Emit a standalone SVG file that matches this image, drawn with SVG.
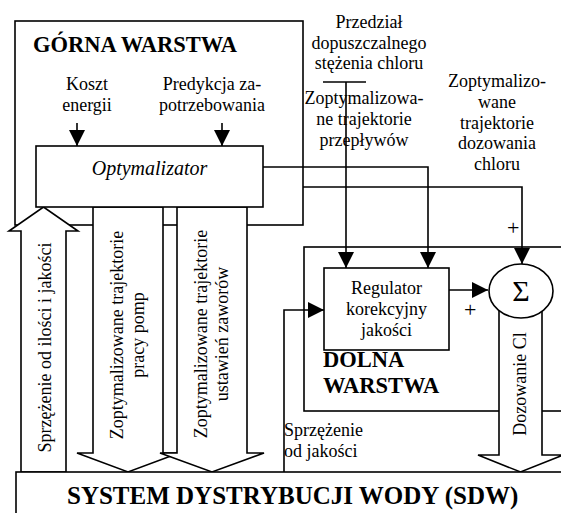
<svg xmlns="http://www.w3.org/2000/svg" width="561" height="513" viewBox="0 0 561 513">
<style>
text{font-family:"Liberation Serif","Times New Roman",serif;font-size:18px;fill:#000}
.b{font-weight:bold}
.h{font-size:22.5px}
.m{text-anchor:middle}
.pl{font-size:22px}
.ln{fill:none;stroke:#000;stroke-width:1.6}
.box{fill:#fff;stroke:#000;stroke-width:1.6}
.arr{fill:#fff;stroke:#000;stroke-width:1.6;stroke-linejoin:miter}
</style>
<defs>
<marker id="ah" viewBox="0 0 16 16" refX="16" refY="8" markerWidth="16" markerHeight="16" orient="auto" markerUnits="userSpaceOnUse">
<path d="M0,0 L16,8 L0,16 z" fill="#000"/>
</marker>
</defs>
<rect width="561" height="513" fill="#fff"/>

<g id="gorna">
<rect class="ln" x="15" y="21" width="288" height="204"/>
<text class="b h" x="33" y="52">GÓRNA WARSTWA</text>
</g>
<g id="dolna">
<rect class="ln" x="304" y="247" width="280" height="164"/>
<text class="b h" x="323" y="367">DOLNA</text>
<text class="b h" x="323" y="393">WARSTWA</text>
</g>

<g id="inputs">
<text class="m" x="87" y="90">Koszt</text>
<text class="m" x="87" y="111">energii</text>
<text class="m" x="212" y="90">Predykcja za-</text>
<text class="m" x="212" y="111">potrzebowania</text>
<text class="m" x="369" y="28">Przedział</text>
<text class="m" x="369" y="49">dopuszczalnego</text>
<text class="m" x="369" y="69">stężenia chloru</text>
<text class="m" x="364" y="104">Zoptymalizowa-</text>
<text class="m" x="364" y="125">ne trajektorie</text>
<text class="m" x="364" y="146">przepływów</text>
<text class="m" x="497" y="87">Zoptymalizo-</text>
<text class="m" x="497" y="108">wane</text>
<text class="m" x="497" y="128.5">trajektorie</text>
<text class="m" x="497" y="149">dozowania</text>
<text class="m" x="497" y="169.5">chloru</text>
</g>

<g id="connectors">
<line class="ln" x1="77" y1="123" x2="77" y2="146" marker-end="url(#ah)"/>
<line class="ln" x1="222" y1="123" x2="222" y2="146" marker-end="url(#ah)"/>
<line class="ln" x1="323" y1="82" x2="366" y2="82"/>
<line class="ln" x1="346" y1="82" x2="346" y2="268" marker-end="url(#ah)"/>
<polyline class="ln" points="263,167 428,167 428,268" marker-end="url(#ah)"/>
<polyline class="ln" points="303,187 522,187 522,264" marker-end="url(#ah)"/>
<line class="ln" x1="449" y1="290" x2="488" y2="290" marker-end="url(#ah)"/>
<polyline class="ln" points="284,472 284,310 324,310" marker-end="url(#ah)"/>
<text class="pl" x="507" y="235">+</text>
<text class="pl" x="464" y="317">+</text>
<text x="284" y="436">Sprzężenie</text>
<text x="284" y="457">od jakości</text>
</g>

<g id="arrow-feedback">
<polygon class="arr" points="21,472 21,231 9,231 43.5,207 78,231 66,231 66,472"/>
<text class="m" transform="translate(51,347.5) rotate(-90)">Sprzężenie od ilości i jakości</text>
</g>
<g id="arrow-pumps">
<polygon class="arr" points="93,207 163,207 163,453 179,453 128,472 77,453 93,453"/>
<text class="m" transform="translate(123,335) rotate(-90)">Zoptymalizowane trajektorie</text>
<text class="m" transform="translate(144,335) rotate(-90)">pracy pomp</text>
</g>
<g id="arrow-valves">
<polygon class="arr" points="177,207 247,207 247,453 264,453 212,472 160,453 177,453"/>
<text class="m" transform="translate(207,334) rotate(-90)">Zoptymalizowane trajektorie</text>
<text class="m" transform="translate(228,334) rotate(-90)">ustawień zaworów</text>
</g>
<g id="arrow-dosing">
<polygon class="arr" points="499,295 542,295 542,455 563,455 520.5,472 478,455 499,455"/>
<text class="m" transform="translate(526,384) rotate(-90)">Dozowanie Cl</text>
</g>

<g id="optymalizator">
<rect class="box" x="36" y="146" width="227" height="61"/>
<text class="m" x="149.5" y="175" style="font-style:italic;font-size:20px">Optymalizator</text>
</g>
<g id="regulator">
<rect class="box" x="324" y="268" width="125" height="82"/>
<text class="m" x="386.5" y="294">Regulator</text>
<text class="m" x="386.5" y="315">korekcyjny</text>
<text class="m" x="386.5" y="336">jakości</text>
</g>
<g id="sumator">
<ellipse class="box" cx="521" cy="291" rx="32" ry="27"/>
<text class="m" x="521" y="301" style="font-size:30px">Σ</text>
</g>
<g id="sdw">
<rect class="box" x="16" y="472" width="560" height="60"/>
<text class="b" x="67" y="504" style="font-size:25px">SYSTEM DYSTRYBUCJI WODY (SDW)</text>
</g>
</svg>
